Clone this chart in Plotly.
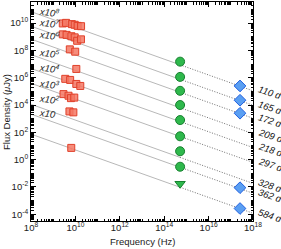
import numpy as np
import plotly.graph_objects as go

# ---------------- data ----------------
epochs = ["110 d", "165 d", "172 d", "209 d", "218 d", "297 d", "328 d", "362 d", "584 d"]
scale_exp = [8, 7, 6, 5, 4, 3, 2, 1, 0]          # each SED multiplied by 10^scale_exp
beta = -0.58                                      # spectral index of the power-law lines
line_f18 = [1.10e-3, 9.5e-4, 1.07e-3, 7.9e-4, 7.6e-4, 6.2e-4, 1.8e-4, 3.4e-4, 1.17e-4]  # model flux at 1e18 Hz (uJy)

# radio (VLA) points: frequency (Hz) and flux density (uJy), unscaled
radio_nu = [
    [2.7e9, 3.8e9, 6.9e9, 9.3e9, 12.6e9, 18e9],
    [2.7e9, 4.0e9, 6.6e9, 9.3e9, 12.0e9, 17.8e9],
    [5.6e9, 9.8e9],
    [11e9],
    [3.5e9, 5.8e9, 11e9, 16.6e9],
    [2.9e9, 4.9e9, 6.3e9, 8.9e9],
    [5.4e9, 8.1e9],
    [],
    [6.5e9],
]
radio_f = [
    [95, 105, 85, 76, 63, 60],
    [151, 138, 110, 91, 51, 65],
    [120, 81],
    [44],
    [83, 69, 35, 25],
    [63, 48, 32, 35],
    [34, 29],
    [],
    [7.2],
]
radio_err_584 = 2.0

# optical (HST) points
opt_nu = 5.2e14
opt_f = [0.151, 0.115, 0.110, 0.100, 0.079, 0.051, 0.041, 0.030, 0.017]
opt_upper = [False] * 8 + [True]

# X-ray (Chandra) points at 1 keV
xray_nu = 2.6e17
xray_epoch_idx = [0, 1, 2, 7, 8]
xray_f = [2.5e-3, 2.24e-3, 2.5e-3, 8.7e-4, 2.6e-4]

# left-side scale labels
scale_labels = ["x10<sup>8</sup>", "x10<sup>7</sup>", "x10<sup>6</sup>", "x10<sup>5</sup>",
                "x10<sup>4</sup>", "x10<sup>3</sup>", "x10<sup>2</sup>", "x10"]

# ---------------- figure ----------------
W, H = 281, 249
ml, mr, mt, mb = 31, 28, 2, 28
pw, ph = W - ml - mr, H - mt - mb
y_rng = [-4.5, 11.55]

def px_to_paper(xp, yp):
    return (xp - ml) / pw, 1 - (yp - mt) / ph

fig = go.Figure()

for i, ep in enumerate(epochs):
    s = 10.0 ** scale_exp[i]
    nu1 = np.logspace(8, np.log10(opt_nu), 40)
    nu2 = np.logspace(np.log10(opt_nu), 18, 40)
    f1 = line_f18[i] * (nu1 / 1e18) ** beta * s
    f2 = line_f18[i] * (nu2 / 1e18) ** beta * s
    fig.add_trace(go.Scatter(x=nu1, y=f1, mode="lines",
                             line=dict(color="#b8b8b8", width=1), showlegend=False, hoverinfo="skip"))
    fig.add_trace(go.Scatter(x=nu2, y=f2, mode="lines",
                             line=dict(color="#707070", width=1, dash="1px,1.6px"),
                             showlegend=False, hoverinfo="skip"))

# radio squares
for i in range(len(epochs)):
    if not radio_nu[i]:
        continue
    s = 10.0 ** scale_exp[i]
    err = None
    if i == 8:
        err = dict(type="data", array=[0], arrayminus=[radio_err_584 * s], color="#f5a090",
                   thickness=1, width=0)
    fig.add_trace(go.Scatter(
        x=radio_nu[i], y=[v * s for v in radio_f[i]], mode="markers",
        marker=dict(symbol="square", size=7, color="rgba(244,120,100,0.85)",
                    line=dict(color="#e0402a", width=1)),
        error_y=err, showlegend=False))

# optical circles / triangle
for i in range(len(epochs)):
    s = 10.0 ** scale_exp[i]
    fig.add_trace(go.Scatter(
        x=[opt_nu], y=[opt_f[i] * s], mode="markers",
        marker=dict(symbol="triangle-down" if opt_upper[i] else "circle", size=9,
                    color="#2eb84c", line=dict(color="#17802f", width=1)),
        showlegend=False))

# X-ray diamonds
for k, i in enumerate(xray_epoch_idx):
    s = 10.0 ** scale_exp[i]
    fig.add_trace(go.Scatter(
        x=[xray_nu], y=[xray_f[k] * s], mode="markers",
        marker=dict(symbol="diamond", size=9, color="#5a9ff2", line=dict(color="#1f5fe0", width=1)),
        showlegend=False))

font_family = "Liberation Sans, Arial, sans-serif"

# left labels
left_y = [12, 23, 35, 53, 68, 84, 99, 113]
for lab, yp in zip(scale_labels, left_y):
    xpp, ypp = px_to_paper(36, yp)
    fig.add_annotation(x=xpp, y=ypp, xref="paper", yref="paper", text="<i>" + lab + "</i>",
                       showarrow=False, xanchor="left", yanchor="middle", textangle=8,
                       font=dict(family=font_family, size=9.5, color="#222"))

# right labels at the line ends
for i, ep in enumerate(epochs):
    s = 10.0 ** scale_exp[i]
    yv = np.log10(line_f18[i] * s)
    ypp = (yv - y_rng[0]) / (y_rng[1] - y_rng[0])
    fig.add_annotation(x=1.0 + 1.5 / pw, y=ypp - 2.0 / ph, xref="paper", yref="paper",
                       text="<i>" + ep + "</i>",
                       showarrow=False, xanchor="left", yanchor="middle", textangle=18,
                       font=dict(family=font_family, size=9.5, color="#111"))

# axis titles
xt, yt = px_to_paper(142, 241)
fig.add_annotation(x=xt, y=yt, xref="paper", yref="paper", text="Frequency (Hz)", showarrow=False,
                   xanchor="center", yanchor="middle", font=dict(family=font_family, size=9.5, color="#222"))
xt, yt = px_to_paper(6, 112)
fig.add_annotation(x=xt, y=yt, xref="paper", yref="paper", text="Flux Density (<i>μ</i>Jy)",
                   showarrow=False, xanchor="center", yanchor="middle", textangle=-90,
                   font=dict(family=font_family, size=9.5, color="#222"))

major_x = [8, 10, 12, 14, 16, 18]
major_y = [-4, -2, 0, 2, 4, 6, 8, 10]

def pow_lab(p):
    return "10<sup>%s</sup>" % (str(p) if p >= 0 else "-" + str(-p))

minor_x = [k * 10.0 ** n for n in range(8, 18) for k in range(1, 10)] + [1e18]
minor_y = [k * 10.0 ** n for n in range(-5, 12) for k in range(1, 10)]

axis_common = dict(type="log", showgrid=False, zeroline=False, showline=True, linecolor="black",
                   linewidth=1, mirror="ticks", ticks="inside", ticklen=5, tickcolor="black",
                   tickfont=dict(family=font_family, size=9.5, color="#222"))

fig.update_xaxes(**axis_common, range=[8, 18], tickmode="array",
                 tickvals=[10.0 ** p for p in major_x], ticktext=[pow_lab(p) for p in major_x],
                 ticklabelstandoff=-2,
                 minor=dict(ticks="inside", ticklen=2.5, tickcolor="black", tickmode="array",
                            tickvals=minor_x))
fig.update_yaxes(**axis_common, range=y_rng, tickmode="array",
                 tickvals=[10.0 ** p for p in major_y], ticktext=[pow_lab(p) for p in major_y],
                 minor=dict(ticks="inside", ticklen=2.5, tickcolor="black", tickmode="array",
                            tickvals=minor_y))

fig.update_layout(width=W, height=H, margin=dict(l=ml, r=mr, t=mt, b=mb, autoexpand=False),
                  plot_bgcolor="white", paper_bgcolor="white", showlegend=False)

fig.write_html("out.html", config={"displayModeBar": False},
               post_script="document.body.style.margin='0';document.body.style.overflow='hidden';")
